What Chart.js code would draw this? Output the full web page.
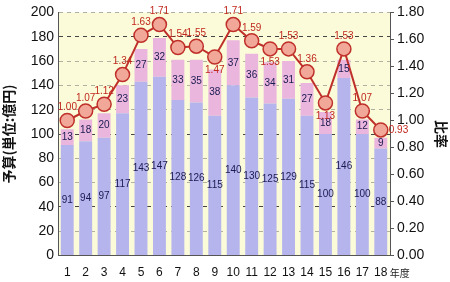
<!DOCTYPE html>
<html>
<head>
<meta charset="utf-8">
<script src="https://cdn.jsdelivr.net/npm/chart.js@4"></script>
<style>
  body { margin: 0; background: #fff; }
  #wrap { width: 450px; height: 282px; }
</style>
</head>
<body>
<div id="wrap"><canvas id="chart"></canvas></div>
<script>
const years = ['1','2','3','4','5','6','7','8','9','10','11','12','13','14','15','16','17','18'];
const baseBudget = [91, 94, 97, 117, 143, 147, 128, 126, 115, 140, 130, 125, 129, 115, 100, 146, 100, 88];
const extraBudget = [13, 18, 20, 23, 27, 32, 33, 35, 38, 37, 36, 34, 31, 27, 18, 15, 12, 9];
const ratio = [1.00, 1.07, 1.12, 1.34, 1.63, 1.71, 1.54, 1.55, 1.47, 1.71, 1.59, 1.53, 1.53, 1.36, 1.13, 1.53, 1.07, 0.93];
// where the ratio label goes: 'a' above, 'b' below, 'r' right
const ratioLabelPos = ['a','a','a','a','a','a','a','a','b','a','a','b','a','a','b','a','a','r'];

const plotBg = {
    id: 'plotBg',
    beforeDraw(chart) {
        const { ctx, chartArea: a } = chart;
        ctx.save();
        ctx.fillStyle = '#fbfbd9';
        ctx.fillRect(a.left, a.top, a.width, a.height);
        ctx.restore();
    }
};

const valueLabels = {
    id: 'valueLabels',
    afterDatasetsDraw(chart) {
        const { ctx } = chart;
        ctx.save();
        ctx.font = '10px "Liberation Sans Narrow", "Liberation Sans", sans-serif';
        ctx.textAlign = 'center';
        ctx.textBaseline = 'middle';
        ctx.fillStyle = '#1a1a50';
        [0, 1].forEach(di => {
            const meta = chart.getDatasetMeta(di);
            meta.data.forEach((bar, i) => {
                const val = chart.data.datasets[di].data[i];
                ctx.fillText(val, bar.x, (bar.y + bar.base) / 2);
            });
        });
        // ratio labels
        const lm = chart.getDatasetMeta(2);
        ctx.fillStyle = '#c0281e';
        lm.data.forEach((pt, i) => {
            const txt = ratio[i].toFixed(2);
            const pos = ratioLabelPos[i];
            if (pos === 'a') ctx.fillText(txt, pt.x, pt.y - 13);
            else if (pos === 'b') ctx.fillText(txt, pt.x, pt.y + 13);
            else { ctx.textAlign = 'left'; ctx.fillText(txt, pt.x + 8, pt.y); ctx.textAlign = 'center'; }
        });
        // unit after last x label
        ctx.fillStyle = '#222';
        ctx.textAlign = 'left';
        ctx.font = '10px "Noto Sans CJK JP", sans-serif';
        const xs = chart.scales.x;
        ctx.fillText('年度', xs.getPixelForValue(17) + 9, 273);
        ctx.restore();
    }
};

const gridColor = ctx => {
    const v = ctx.tick && ctx.tick.value;
    if (v === 40 || v === 100 || v === 180) return '#444';
    return '#b0b0a0';
};

new Chart(document.getElementById('chart'), {
    data: {
        labels: years,
        datasets: [
            {
                type: 'bar',
                label: 'base',
                data: baseBudget,
                backgroundColor: '#b6b4ec',
                borderWidth: 0,
                stack: 's',
                order: 1
            },
            {
                type: 'bar',
                label: 'extra',
                data: extraBudget,
                backgroundColor: '#eab6de',
                borderWidth: 0,
                stack: 's',
                order: 1
            },
            {
                type: 'line',
                label: '比率',
                data: ratio,
                yAxisID: 'y2',
                borderColor: '#c0302a',
                borderWidth: 2,
                pointRadius: 7,
                pointBackgroundColor: '#f2a898',
                pointBorderColor: '#c0302a',
                pointBorderWidth: 1.5,
                order: 0
            }
        ]
    },
    options: {
        responsive: true,
        maintainAspectRatio: false,
        animation: false,
        layout: { padding: { top: 10, right: 0, bottom: 0, left: 0 } },
        datasets: { bar: { barPercentage: 0.7, categoryPercentage: 1 } },
        plugins: { legend: { display: false }, tooltip: { enabled: false } },
        scales: {
            x: {
                stacked: true,
                grid: { display: false },
                border: { color: '#555' },
                ticks: { color: '#111', font: { size: 12, family: 'Liberation Sans' }, padding: 2, maxRotation: 0 }
            },
            y: {
                stacked: true,
                min: 0, max: 200,
                ticks: { stepSize: 20, color: '#111', font: { size: 14, family: 'Liberation Sans' }, padding: 4 },
                grid: { color: gridColor, drawTicks: false },
                border: { color: '#555', dash: [4, 4] },
                title: { display: true, text: '予算(単位:億円)', color: '#111', font: { size: 14, family: 'Noto Sans CJK JP', weight: 'bold' }, padding: 0 },
                afterFit(s) { s.width = 58; }
            },
            y2: {
                position: 'right',
                min: 0, max: 1.8,
                ticks: { stepSize: 0.2, color: '#111', font: { size: 14, family: 'Liberation Sans' }, callback: v => v.toFixed(2), padding: 3 },
                grid: { drawOnChartArea: false, tickLength: 4, color: '#555' },
                border: { color: '#555' },
                title: { display: true, text: '比率', color: '#111', font: { size: 14, family: 'Noto Sans CJK JP', weight: 'bold' }, padding: 0 },
                afterFit(s) { s.width = 60; }
            }
        }
    },
    plugins: [plotBg, valueLabels]
});
</script>
</body>
</html>
